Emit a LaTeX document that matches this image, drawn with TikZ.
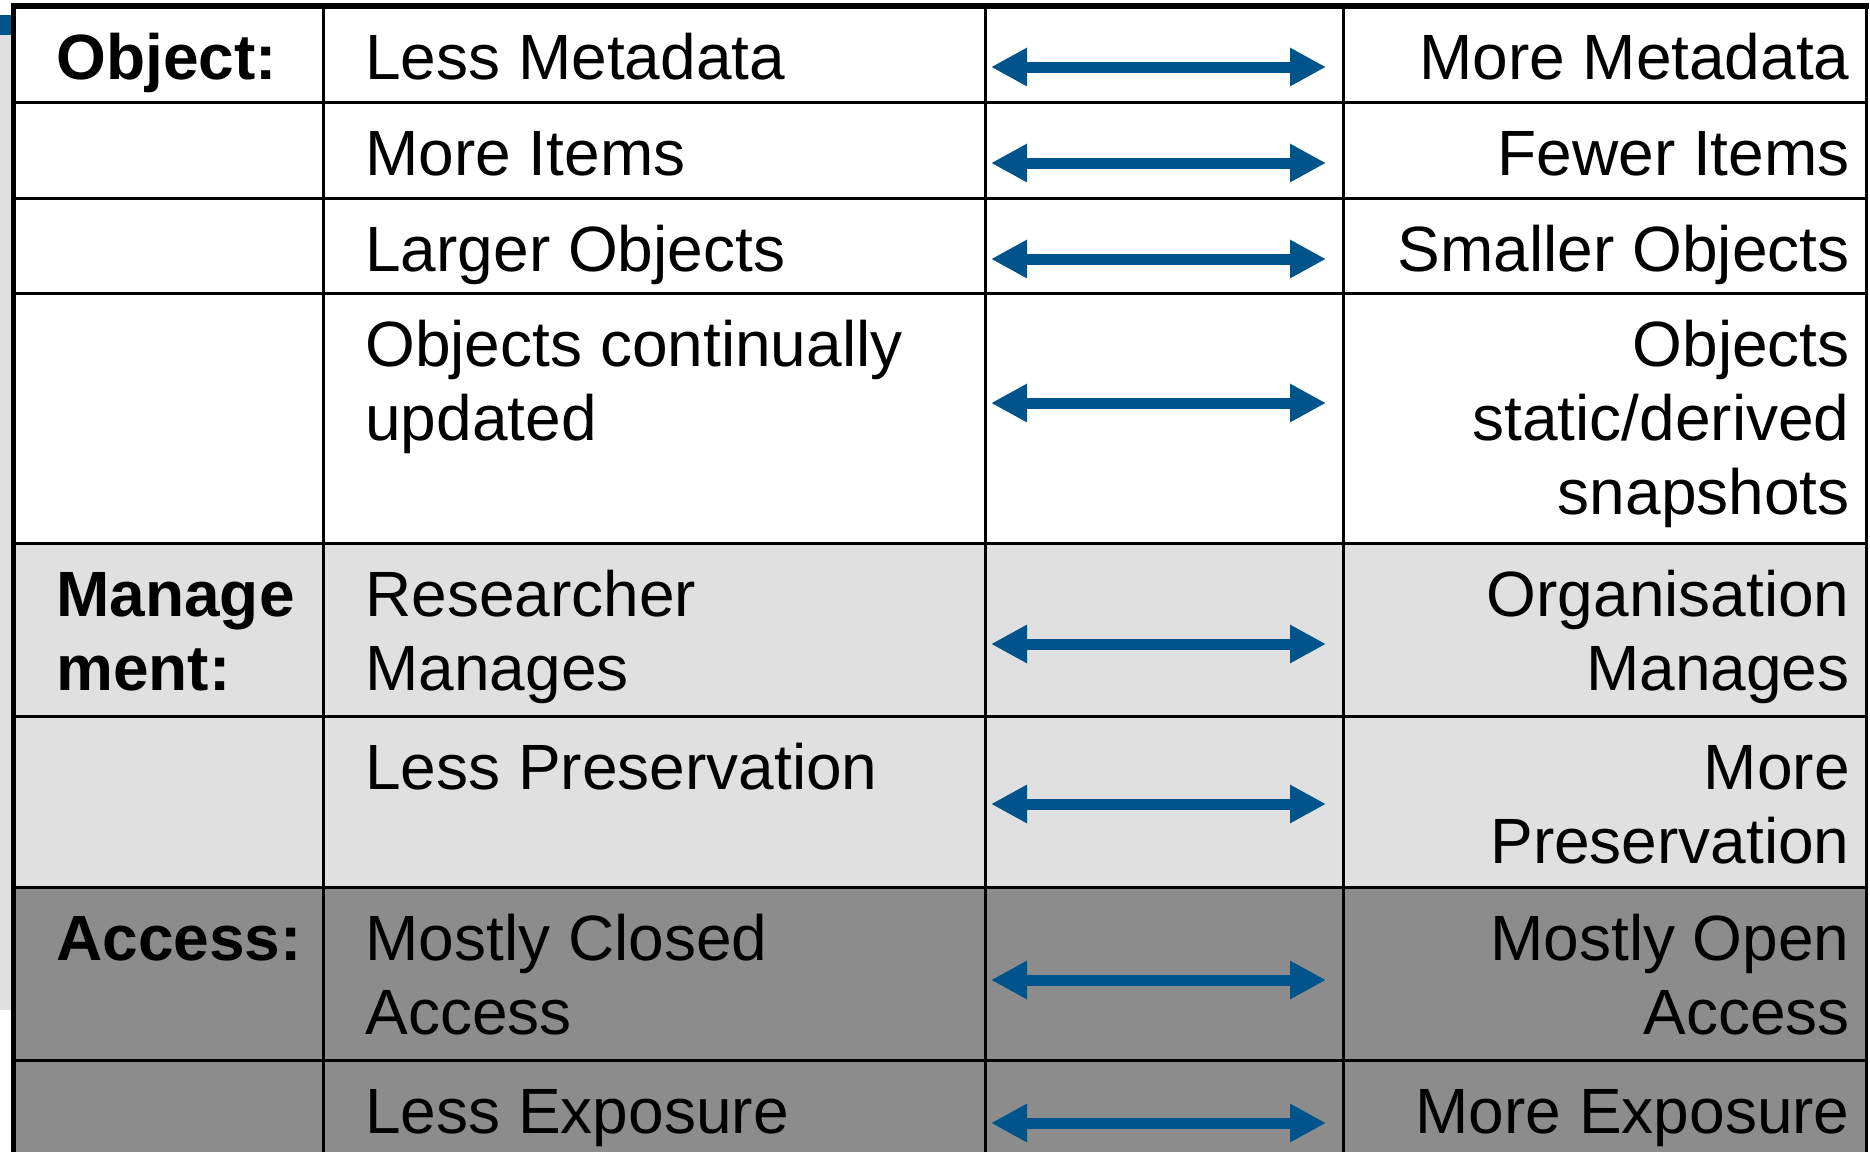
\documentclass[tikz,border=0pt]{standalone}
\usepackage{fontspec}
\setmainfont{Liberation Sans}
\usetikzlibrary{arrows.meta}
\definecolor{bleu}{RGB}{0,84,140}
\definecolor{gris}{RGB}{224,224,224}
\definecolor{grisfonce}{RGB}{140,140,140}

\begin{document}
\begin{tikzpicture}[x=0.5pt,y=-0.5pt,
		texte/.style={font=\fontsize{32}{37}\selectfont,inner sep=0pt},
		gauche/.style={texte,anchor=base west,align=left},
		droite/.style={texte,anchor=base east,align=right},
		titre/.style={gauche,font=\fontsize{32}{37}\selectfont\bfseries},
		trait/.style={line width=1.5pt},
		fleche/.style={draw=bleu,line width=5.5pt,>={Triangle[width=18pt,length=18pt]},<->}]
					%\draw[help lines] (0,0) grid[step=100] (1870,1152);
					\useasboundingbox (0,0) rectangle (1870,1152);
					\fill[white] (0,0) rectangle (1870,1152);
					%FOND
					\fill[bleu] (0,15) rectangle (12,35);
					\fill[gris] (0,35) rectangle (12,1010);
					%CASES
					\fill[white] (13,6) rectangle (1866,543);
					\fill[gris] (13,543) rectangle (1866,887);
					\fill[grisfonce] (13,887) rectangle (1866,1160);
					\foreach \y in {102,198,293,543,716,887,1060}
						\draw[trait] (13,\y) -- (1866,\y);
					\foreach \x in {323,985,1343,1866}
						\draw[trait] (\x,6) -- (\x,1160);
					\draw[line width=2.75pt,line join=miter] (13.5,1160) -- (13.5,6) -- (1869,6);

					%OBJECT (base = derniere ligne)
					\node[titre] (T1) at (56,79) {Object:};
					\node[gauche] (L1) at (365,79) {Less Metadata};
					\node[droite] (R1) at (1850,79) {More Metadata};
					\node[gauche] (L2) at (365,175) {More Items};
					\node[droite] (R2) at (1850,175) {Fewer Items};
					\node[gauche] (L3) at (365,271) {Larger Objects};
					\node[droite] (R3) at (1850,271) {Smaller Objects};
					\node[gauche] (L4) at (365,440) {Objects continually\\updated};
					\node[droite] (R4) at (1850,514) {Objects\\static/derived\\snapshots};
					%MANAGEMENT
					\node[titre] (T2) at (56,690) {Manage\\ment:};
					\node[gauche] (L5) at (365,690) {Researcher\\Manages};
					\node[droite] (R5) at (1850,690) {Organisation\\Manages};
					\node[gauche] (L6) at (365,789) {Less Preservation};
					\node[droite] (R6) at (1850,863) {More\\Preservation};
					%ACCESS
					\node[titre] (T3) at (56,960) {Access:};
					\node[gauche] (L7) at (365,1034) {Mostly Closed\\Access};
					\node[droite] (R7) at (1850,1034) {Mostly Open\\Access};
					\node[gauche] (L8) at (365,1133) {Less Exposure};
					\node[droite] (R8) at (1850,1133) {More Exposure};

					%FLECHES
					\foreach \i/\y in {1/67,2/163,3/259,4/403,5/644,6/804,7/980,8/1123}{
						\coordinate (A\i) at (991,\y);
						\coordinate (B\i) at (1326,\y);
						\draw[fleche] (A\i) -- (B\i);
					}
\end{tikzpicture}
\end{document}
